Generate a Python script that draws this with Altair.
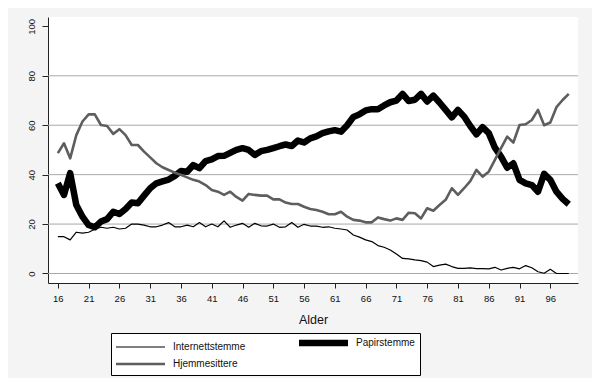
import altair as alt
import pandas as pd

ages = list(range(16, 100))

internett = [14.9, 14.9, 13.6, 16.7, 16.3, 16.7, 17.9, 18.7, 18.3, 18.7,
             18.0, 18.3, 20.0, 20.0, 19.6, 18.9, 18.9, 19.6, 20.6, 18.9,
             18.9, 19.6, 18.9, 20.6, 18.9, 20.0, 18.9, 21.3, 18.7, 19.6,
             20.3, 18.7, 20.3, 19.3, 19.2, 20.0, 18.7, 18.9, 20.6, 18.7,
             19.9, 19.2, 19.2, 18.7, 18.9, 18.3, 18.0, 17.6, 15.6, 14.7,
             13.6, 12.9, 11.3, 10.6, 9.5, 7.9, 6.1, 5.9, 5.5, 5.2,
             4.6, 2.8, 3.4, 3.8, 2.8, 2.1, 2.1, 2.3, 2.0, 2.0,
             1.9, 2.5, 1.4, 2.1, 2.5, 1.9, 3.2, 2.3, 0.7, 0.1,
             1.7, 0.0, 0.0, 0.0]

papir = [36.5, 31.8, 40.6, 27.7, 23.0, 19.6, 18.7, 21.0, 22.0, 25.0,
         24.1, 26.1, 28.7, 28.4, 31.5, 34.5, 36.5, 37.3, 38.0, 39.5,
         41.5, 41.2, 43.9, 42.6, 45.5, 46.2, 47.5, 47.6, 48.8, 50.0,
         50.7, 50.0, 48.0, 49.5, 50.0, 50.7, 51.5, 52.2, 51.6, 53.8,
         53.0, 54.7, 55.5, 56.8, 57.5, 58.0, 57.4, 60.0, 63.3, 64.4,
         66.0, 66.5, 66.5, 68.0, 69.3, 70.0, 72.7, 69.8, 70.3, 72.7,
         69.6, 72.0, 69.2, 66.2, 63.2, 66.2, 63.5, 59.7, 56.3, 59.2,
         56.8, 50.9, 47.3, 42.8, 44.6, 37.9, 36.5, 35.8, 33.1, 40.3,
         37.9, 33.1, 30.2, 28.0]

hjemme = [48.7, 52.7, 46.6, 56.0, 61.5, 64.4, 64.4, 60.1, 59.7, 56.5,
          58.4, 56.0, 52.0, 52.0, 49.3, 47.0, 44.6, 43.0, 41.9, 40.8,
          39.9, 38.9, 37.9, 37.2, 35.8, 33.8, 33.1, 31.8, 33.1, 31.0,
          29.5, 32.2, 31.8, 31.5, 31.5, 30.0, 30.0, 28.7, 28.1, 28.1,
          27.0, 26.1, 25.7, 25.0, 24.0, 24.0, 25.0, 23.0, 21.7, 21.4,
          20.7, 20.7, 22.7, 22.0, 21.4, 22.3, 21.7, 24.6, 24.4, 22.3,
          26.4, 25.4, 27.7, 29.8, 34.5, 31.8, 34.5, 37.4, 41.9, 39.2,
          41.2, 46.0, 50.7, 55.4, 53.0, 60.1, 60.4, 62.1, 66.2, 60.0,
          61.1, 67.3, 70.2, 72.7]

series_names = ["Internettstemme", "Papirstemme", "Hjemmesittere"]
series_colors = ["#000000", "#000000", "#5e5e5e"]
series_widths = [1.2, 6.5, 2.6]
# legend entries fill column by column: first column, then second
legend_order = ["Internettstemme", "Hjemmesittere", "Papirstemme"]

x_ticks = list(range(16, 97, 5))
y_ticks = [0, 20, 40, 60, 80, 100]
grid_vals = [0, 20, 40, 60, 80]

rows = []
for name, w, vals in zip(series_names, series_widths, [internett, papir, hjemme]):
    for a, v in zip(ages, vals):
        rows.append({"Alder": a, "serie": name, "verdi": v, "w": w})
df = pd.DataFrame(rows)

FONT = "Liberation Sans"
xscale = alt.Scale(domain=[14.4, 100.5], nice=False, zero=False)
yscale = alt.Scale(domain=[-3.85, 103.8], nice=False, zero=False)

y_axis = alt.Axis(values=y_ticks, title=None, grid=False,
                  tickSize=6, labelPadding=6, labelAngle=-90,
                  labelAlign="center", labelBaseline="bottom",
                  labelFontSize=9.5)
x_axis = alt.Axis(values=x_ticks, title="Alder", grid=False,
                  tickSize=5, labelPadding=5, titlePadding=11,
                  labelFontSize=9.5, titleFontSize=12.5,
                  titleFontWeight="normal")

grid = alt.Chart(pd.DataFrame({"g": grid_vals})).mark_rule(
    color="#a8a8a8", strokeWidth=1
).encode(y=alt.Y("g:Q", scale=yscale, axis=y_axis, title=None))

width_expr = " : ".join(
    f"datum.value === '{n}' ? {w}" for n, w in zip(series_names, series_widths)
) + " : 1"

legend = alt.Legend(
    title=None, values=legend_order,
    symbolStrokeWidth=alt.ExprRef(expr=width_expr),
)

lines = alt.Chart(df).mark_line(strokeJoin="round").encode(
    x=alt.X("Alder:Q", scale=xscale, axis=x_axis),
    y=alt.Y("verdi:Q", scale=yscale, axis=y_axis, title=None),
    color=alt.Color("serie:N",
                    scale=alt.Scale(domain=series_names, range=series_colors),
                    legend=legend),
    strokeWidth=alt.StrokeWidth("w:Q", scale=None, legend=None),
    detail="serie:N",
    order=alt.Order("Alder:Q"),
)

chart = alt.layer(grid, lines).properties(
    width=530, height=266,
    background="#f4f4f4",
    autosize=alt.AutoSizeParams(type="none"),
    padding={"left": 40, "top": 9, "right": 14, "bottom": 95},
).configure_view(
    fill="white", stroke=None
).configure_axis(
    domainColor="#222222", tickColor="#222222", labelColor="#111111",
    titleColor="#111111", labelFont=FONT, titleFont=FONT, domainWidth=1,
).configure_legend(
    orient="none", legendX=63, legendY=316, columns=2, gridAlign="all",
    symbolType="M-1,0H8.8", symbolSize=100, fillColor="white",
    strokeColor="#000000", padding=5, labelFont=FONT, labelFontSize=10,
    labelBaseline="middle",
    labelOffset=47, columnPadding=40, rowPadding=2, labelColor="#111111",
    cornerRadius=0,
)

chart.save("out.html", embed_options={"renderer": "svg", "actions": False})
